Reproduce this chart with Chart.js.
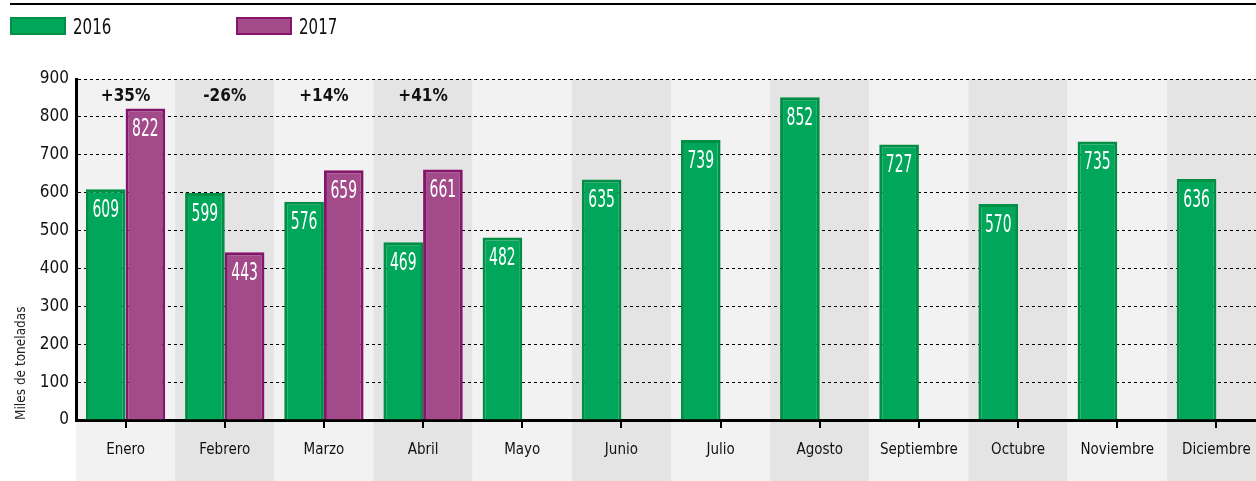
<!DOCTYPE html>
<html>
<head>
<meta charset="utf-8">
<script src="https://cdn.jsdelivr.net/npm/chart.js@4/dist/chart.umd.min.js"></script>
<style>
  html, body { margin: 0; padding: 0; background: #fff; overflow: hidden; }
  #wrap { position: relative; width: 1266px; height: 481px; }
  #topline { position: absolute; left: 10px; top: 3px; width: 1256px; height: 2px; background: #000; }
  .leg { position: absolute; top: 14px; font: 22px 'Liberation Sans Narrow', 'DejaVu Sans Condensed', sans-serif; color: #111; }
  .leg span.box { display: inline-block; width: 52px; height: 14px; vertical-align: -1px; margin-right: 7px; border: 2px solid; }
  .leg span.txt { display: inline-block; transform: scaleX(0.76); transform-origin: left center; }
</style>
</head>
<body>
<div id="wrap">
  <canvas id="chart"></canvas>
  <div id="topline"></div>
  <div class="leg" style="left:10px"><span class="box" style="background:#00a65a;border-color:#008f45"></span><span class="txt">2016</span></div>
  <div class="leg" style="left:236px"><span class="box" style="background:#a24a8a;border-color:#84156a"></span><span class="txt">2017</span></div>
</div>
<script>
  const months = ['Enero', 'Febrero', 'Marzo', 'Abril', 'Mayo', 'Junio', 'Julio', 'Agosto', 'Septiembre', 'Octubre', 'Noviembre', 'Diciembre'];
  const values2016 = [609, 599, 576, 469, 482, 635, 739, 852, 727, 570, 735, 636];
  const values2017 = [822, 443, 659, 661, null, null, null, null, null, null, null, null];
  const changes = ['+35%', '-26%', '+14%', '+41%'];

  const narrow = "'Liberation Sans Narrow', 'DejaVu Sans Condensed', sans-serif";

  // alternating column backgrounds, running down through the label area
  const columnBands = {
    id: 'columnBands',
    beforeDraw(chart) {
      const { ctx, chartArea, scales: { x } } = chart;
      const w = (chartArea.right - chartArea.left) / months.length;
      ctx.save();
      months.forEach((m, i) => {
        ctx.fillStyle = i % 2 === 0 ? '#f2f2f2' : '#e4e4e4';
        const cx = x.getPixelForValue(i);
        ctx.fillRect(cx - w / 2, chartArea.top, w, chart.height - chartArea.top);
      });
      ctx.restore();
    }
  };

  // white numbers inside the bars and change percentages above the groups
  const barLabels = {
    id: 'barLabels',
    afterDatasetsDraw(chart) {
      const { ctx, chartArea, scales: { x } } = chart;
      ctx.save();
      chart.data.datasets.forEach((ds, di) => {
        chart.getDatasetMeta(di).data.forEach((bar, i) => {
          if (ds.data[i] == null) return;
          ctx.save();
          ctx.translate(bar.x, bar.y + 21);
          ctx.scale(0.62, 1);
          ctx.fillStyle = '#fff';
          ctx.font = '25px ' + narrow;
          ctx.textAlign = 'center';
          ctx.textBaseline = 'middle';
          ctx.fillText(String(ds.data[i]), 0, 0);
          ctx.restore();
        });
      });
      ctx.fillStyle = '#111';
      ctx.font = 'bold 17px ' + narrow;
      ctx.textAlign = 'center';
      ctx.textBaseline = 'middle';
      changes.forEach((c, i) => {
        ctx.fillText(c, x.getPixelForValue(i), chartArea.top + 18);
      });
      ctx.restore();
    }
  };

  new Chart(document.getElementById('chart'), {
    type: 'bar',
    data: {
      labels: months,
      datasets: [
        {
          label: '2016',
          data: values2016,
          backgroundColor: '#00a65a',
          borderColor: '#008f45',
          borderWidth: 3,
          categoryPercentage: 0.8,
          barPercentage: 1.0
        },
        {
          label: '2017',
          data: values2017,
          backgroundColor: '#a24a8a',
          borderColor: '#84156a',
          borderWidth: 3,
          categoryPercentage: 0.8,
          barPercentage: 1.0
        }
      ]
    },
    options: {
      responsive: true,
      maintainAspectRatio: false,
      animation: false,
      layout: { padding: { top: 79, left: 0, right: 0, bottom: 0 } },
      plugins: {
        legend: { display: false },
        tooltip: { enabled: false }
      },
      scales: {
        x: {
          afterFit: (s) => { s.height = 61; },
          grid: {
            offset: false,
            drawOnChartArea: false,
            drawTicks: true,
            tickLength: 8,
            color: '#000',
            lineWidth: 2
          },
          border: { color: '#000', width: 3 },
          ticks: {
            color: '#111',
            padding: 13,
            font: { family: narrow, size: 15 }
          }
        },
        y: {
          min: 0,
          max: 900,
          afterFit: (s) => { s.width = 76; },
          ticks: {
            stepSize: 100,
            color: '#111',
            padding: 7,
            font: { family: narrow, size: 17 }
          },
          grid: {
            drawTicks: false,
            color: '#000',
            lineWidth: 1
          },
          border: { color: '#000', width: 3, dash: [3, 3] },
          title: {
            display: true,
            text: 'Miles de toneladas',
            align: 'start',
            color: '#222',
            padding: { top: 13, bottom: 0 },
            font: { family: narrow, size: 13.5 }
          }
        }
      }
    },
    plugins: [columnBands, barLabels]
  });
</script>
</body>
</html>
